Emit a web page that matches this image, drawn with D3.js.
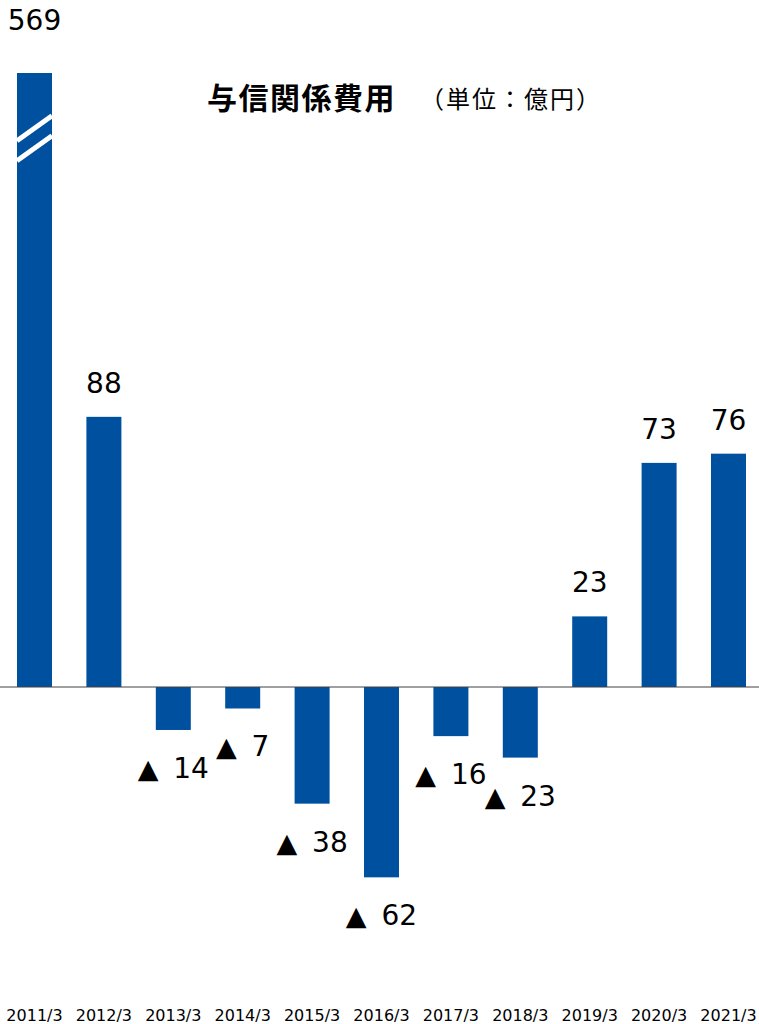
<!DOCTYPE html>
<html>
<head>
<meta charset="utf-8">
<script src="https://cdn.jsdelivr.net/npm/d3@7"></script>
<style>
  body { margin: 0; background: #fff; }
  svg { display: block; }
</style>
</head>
<body>
<svg id="chart"></svg>
<script>
'use strict';

// Data
var years = ["2011/3", "2012/3", "2013/3", "2014/3", "2015/3", "2016/3",
             "2017/3", "2018/3", "2019/3", "2020/3", "2021/3"];
var costs = [569, 88, -14, -7, -38, -62, -16, -23, 23, 73, 76];
var axisMax = 200;            // bars above this are cut with a break mark
var breakValues = [182, 175.5]; // where the two break stripes sit (value units)

var width = 759, height = 1024;
var barColor = "#0050A0";
var numFont = "'DejaVu Sans', Verdana, sans-serif";
var jpFont = "'Noto Sans CJK JP', sans-serif";

var svg = d3.select("#chart")
    .attr("width", width)
    .attr("height", height);

var x = d3.scaleBand()
    .domain(years)
    .range([17, 746])
    .paddingInner(0.4957)
    .paddingOuter(0);

var y = d3.scaleLinear()
    .domain([-100, axisMax])
    .range([994, 73])
    .clamp(true);

// Bars
svg.selectAll("rect.bar")
    .data(costs)
  .enter().append("rect")
    .attr("class", "bar")
    .attr("x", function(d, i) { return x(years[i]); })
    .attr("width", x.bandwidth())
    .attr("y", function(d) { return d >= 0 ? y(d) : y(0); })
    .attr("height", function(d) { return Math.abs(y(d) - y(0)); })
    .attr("fill", barColor);

// Break stripes on bars that run off the top
costs.forEach(function(d, i) {
    if (d <= axisMax) return;
    var x0 = x(years[i]), x1 = x0 + x.bandwidth();
    breakValues.forEach(function(v) {
        svg.append("line")
            .attr("x1", x0).attr("y1", y(v) + 12.5)
            .attr("x2", x1).attr("y2", y(v) - 12.5)
            .attr("stroke", "#fff")
            .attr("stroke-width", 5);
    });
});

// Zero line
svg.append("line")
    .attr("x1", 0).attr("x2", width)
    .attr("y1", y(0)).attr("y2", y(0))
    .attr("stroke", "#404040")
    .attr("stroke-width", 1);

// Value labels
var vals = svg.selectAll("text.val")
    .data(costs)
  .enter().append("text")
    .attr("class", "val")
    .attr("x", function(d, i) { return x(years[i]) + x.bandwidth() / 2; })
    .attr("y", function(d) {
        if (d > axisMax) return y(axisMax) - 43;
        return d >= 0 ? y(d) - 24 : y(d) + 48;
    })
    .attr("text-anchor", "middle")
    .style("font-family", numFont)
    .style("font-size", "28px")
    .attr("fill", "#000");

vals.filter(function(d) { return d < 0; })
    .append("tspan")
    .style("font-size", "27px")
    .text("▲");
vals.append("tspan")
    .attr("dx", function(d) { return d < 0 ? 6 : 0; })
    .text(function(d) { return d < 0 ? " " + (-d) : d; });

// Category labels
svg.selectAll("text.cat")
    .data(years)
  .enter().append("text")
    .attr("class", "cat")
    .attr("x", function(d) { return x(d) + x.bandwidth() / 2; })
    .attr("y", 1021)
    .attr("text-anchor", "middle")
    .style("font-family", numFont)
    .style("font-size", "16px")
    .attr("fill", "#000")
    .text(function(d) { return d; });

// Title
svg.append("text")
    .attr("x", 207)
    .attr("y", 109)
    .style("font-family", jpFont)
    .style("font-size", "30px")
    .style("font-weight", "bold")
    .style("letter-spacing", "1.5px")
    .text("与信関係費用");

svg.append("text")
    .attr("x", 420)
    .attr("y", 108)
    .style("font-family", jpFont)
    .style("font-size", "24px")
    .style("letter-spacing", "2px")
    .text("（単位：億円）");
</script>
</body>
</html>
